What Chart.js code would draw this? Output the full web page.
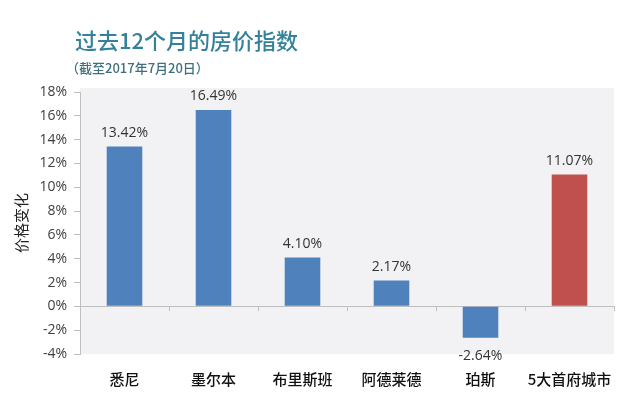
<!DOCTYPE html>
<html>
<head>
<meta charset="utf-8">
<script src="https://cdn.jsdelivr.net/npm/chart.js@4/dist/chart.umd.min.js"></script>
<style>
  html, body { margin: 0; padding: 0; background: #fff; }
  #wrap { width: 640px; height: 393px; position: relative; }
</style>
</head>
<body>
<div id="wrap"><canvas id="pricechart" width="640" height="393"></canvas></div>
<script>
const cities = ["悉尼", "墨尔本", "布里斯班", "阿德莱德", "珀斯", "5大首府城市"];
const changes = [13.42, 16.49, 4.10, 2.17, -2.64, 11.07];
const barColors = ["#4f81bd", "#4f81bd", "#4f81bd", "#4f81bd", "#4f81bd", "#c0504d"];
const yTicks = [-4, -2, 0, 2, 4, 6, 8, 10, 12, 14, 16, 18];

const cjk = "'Noto Sans CJK SC', 'Noto Sans', sans-serif";

// grey plot background + headings
const decor = {
  id: "decor",
  beforeDraw(chart) {
    const { ctx, chartArea } = chart;
    ctx.save();
    ctx.fillStyle = "#f2f2f4";
    ctx.fillRect(chartArea.left, chartArea.top - 4, chartArea.right - chartArea.left, chartArea.bottom - chartArea.top + 4);
    ctx.restore();
  },
  afterDraw(chart) {
    const ctx = chart.ctx;
    ctx.save();
    ctx.textBaseline = "middle";
    ctx.textAlign = "left";
    ctx.fillStyle = "#33829a";
    ctx.font = "500 22px " + cjk;
    ctx.fillText("过去12个月的房价指数", 75, 41);
    ctx.fillStyle = "#3f6f7e";
    ctx.font = "500 13px " + cjk;
    ctx.fillText("（截至2017年7月20日）", 66, 68);
    ctx.restore();
  }
};

// value labels above / below bars
const valueLabels = {
  id: "valueLabels",
  afterDatasetsDraw(chart) {
    const ctx = chart.ctx;
    const meta = chart.getDatasetMeta(0);
    ctx.save();
    ctx.font = "14px 'Open Sans', sans-serif";
    ctx.fillStyle = "#333";
    ctx.textAlign = "center";
    meta.data.forEach((bar, i) => {
      const v = changes[i];
      const txt = v.toFixed(2) + "%";
      if (v >= 0) {
        ctx.textBaseline = "bottom";
        ctx.fillText(txt, bar.x, bar.y - 7);
      } else {
        ctx.textBaseline = "top";
        ctx.fillText(txt, bar.x, bar.y + 11);
      }
    });
    ctx.restore();
  }
};

new Chart(document.getElementById("pricechart"), {
  type: "bar",
  data: {
    labels: cities,
    datasets: [
      {
        label: "价格变化",
        data: changes,
        backgroundColor: barColors,
        barPercentage: 0.4,
        categoryPercentage: 1.0,
      },
    ],
  },
  options: {
    responsive: false,
    animation: false,
    layout: { padding: { top: 92, right: 26, bottom: 6, left: 12 } },
    plugins: {
      legend: { display: false },
      tooltip: { enabled: false },
    },
    scales: {
      y: {
        min: -4,
        max: 18,
        afterBuildTicks(scale) {
          scale.ticks = yTicks.map(v => ({ value: v }));
        },
        afterFit(scale) { scale.width = 68; },
        ticks: {
          callback: v => v + "%",
          color: "#404040",
          font: { size: 14, family: "'Open Sans', sans-serif" },
          padding: 7,
        },
        grid: { drawOnChartArea: false, tickLength: 6, color: "#bfbfbf" },
        border: { color: "#bfbfbf" },
        title: {
          display: true,
          text: "价格变化",
          color: "#222",
          font: { size: 15, family: cjk },
          padding: 0,
        },
      },
      x: {
        position: { y: 0 },
        offset: true,
        ticks: { display: false },
        grid: { offset: true, drawOnChartArea: false, tickLength: 4, color: "#bfbfbf" },
        border: { color: "#bfbfbf" },
      },
      x2: {
        type: "category",
        labels: cities,
        position: "bottom",
        offset: true,
        afterFit(scale) { scale.height = 33; },
        ticks: {
          color: "#111",
          font: { size: 15, family: cjk, weight: "500" },
          padding: 8,
          maxRotation: 0,
          minRotation: 0,
          autoSkip: false,
        },
        grid: { display: false },
        border: { display: false },
      },
    },
  },
  plugins: [decor, valueLabels],
});
</script>
</body>
</html>
